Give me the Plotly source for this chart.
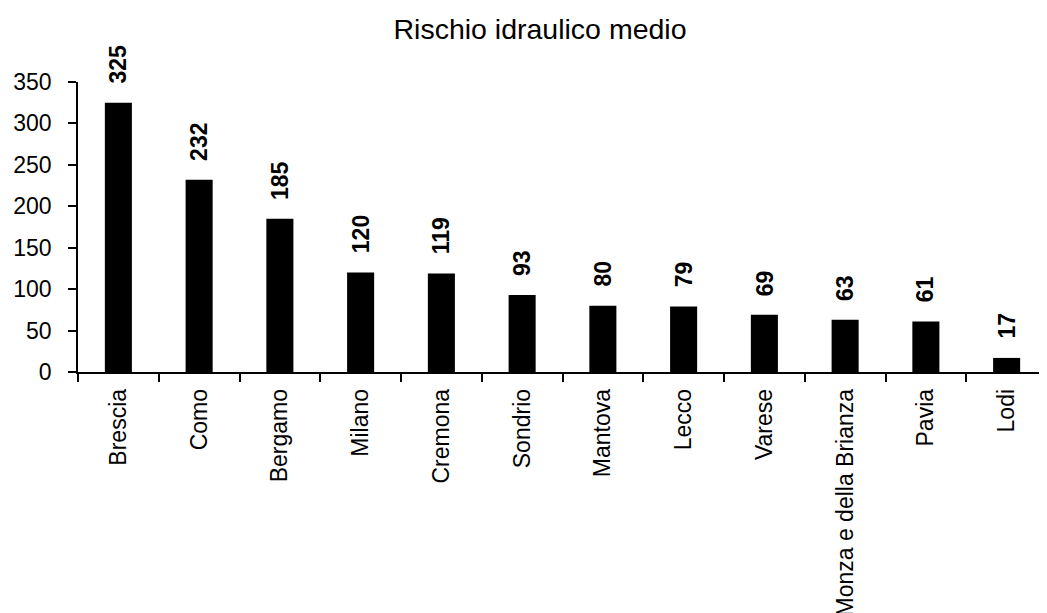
import plotly.graph_objects as go

categories = ["Brescia", "Como", "Bergamo", "Milano", "Cremona", "Sondrio",
              "Mantova", "Lecco", "Varese", "Monza e della Brianza", "Pavia", "Lodi"]
values = [325, 232, 185, 120, 119, 93, 80, 79, 69, 63, 61, 17]
y_ticks = [0, 50, 100, 150, 200, 250, 300, 350]
title_text = "Rischio idraulico medio"

FONT = "Liberation Sans, Arial, sans-serif"

# the page body adds an 8px offset; the figure is sized to fit the window
W, H, OFF = 1039, 605, 8

fig = go.Figure()
fig.add_trace(go.Bar(
    x=categories, y=values,
    marker=dict(color="black", line=dict(width=0)),
    hoverinfo="x+y",
))

for c, v in zip(categories, values):
    fig.add_annotation(
        x=c, y=v, text="<b>%d</b>" % v, showarrow=False,
        textangle=-90, xanchor="center", yanchor="bottom", yshift=17,
        font=dict(family=FONT, size=23, color="black"),
    )

fig.update_layout(
    width=W, height=H,
    margin=dict(l=78 - OFF, r=0, t=82 - OFF, b=241, autoexpand=False),
    paper_bgcolor="white", plot_bgcolor="white",
    bargap=0.665,
    showlegend=False,
    title=dict(text=title_text, x=(540 - OFF) / W, xanchor="center",
               y=1 - (29 - OFF) / H, yanchor="middle",
               font=dict(family=FONT, size=28.5, color="black")),
    font=dict(family=FONT, color="black"),
)
fig.update_xaxes(
    type="category", showline=True, linecolor="black", linewidth=1.5,
    ticks="outside", tickson="boundaries", ticklen=8, tickcolor="black", tickwidth=1.5,
    tickangle=-90, tickfont=dict(family=FONT, size=23, color="black"),
    ticklabelstandoff=6, showgrid=False, range=[-0.5, 11.5], automargin=False,
)
fig.update_yaxes(
    range=[0, 350], tickvals=y_ticks, showline=True, linecolor="black", linewidth=1.5,
    ticks="outside", ticklen=8, tickcolor="black", tickwidth=1.5,
    tickfont=dict(family=FONT, size=23, color="black"),
    ticklabelstandoff=12, showgrid=False, zeroline=False, automargin=False,
)

fig.write_html("out.html")
